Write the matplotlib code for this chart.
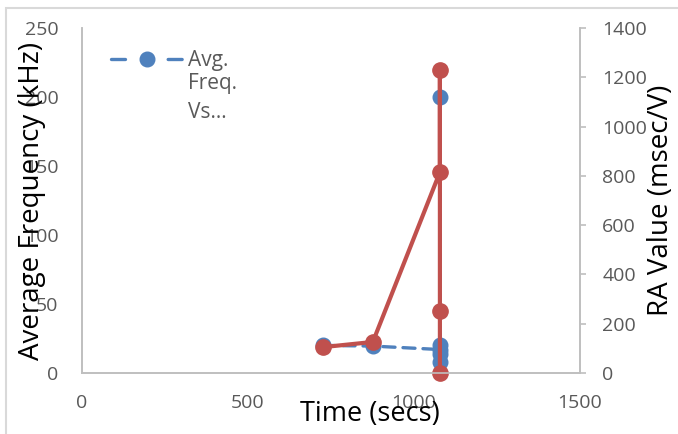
import matplotlib.pyplot as plt
from matplotlib.patches import Rectangle

plt.rcParams['font.family'] = ['Open Sans', 'DejaVu Sans']

# data
time_freq = [726, 876, 1078, 1078, 1078, 1078, 1078]
avg_freq = [20, 19.5, 17, 200, 20, 8, 14]
time_ra = [726, 876, 1078, 1078, 1078, 1078]
ra_value = [105, 126, 815, 1230, 250, 0]

x_ticks = [0, 500, 1000, 1500]
left_ticks = [0, 50, 100, 150, 200, 250]
right_ticks = [0, 200, 400, 600, 800, 1000, 1200, 1400]

BLUE = '#4F81BD'
RED = '#C0504D'
GRID = '#BFBFBF'
TICK = '#595959'

fig = plt.figure(figsize=(6.78, 4.34), dpi=100)
ax = fig.add_axes([82 / 678, 1 - 373 / 434, 498 / 678, 345 / 434])
ax2 = ax.twinx()

# light border around the chart area
fig.patches.append(Rectangle((6 / 678, -0.1), 1.2, 1 - 8 / 434 + 0.1,
                             transform=fig.transFigure, fill=False,
                             edgecolor='#D9D9D9', linewidth=1.5))

line_b, = ax.plot(time_freq, avg_freq, color=BLUE, linestyle='--', dashes=(3.6, 2.4),
                  linewidth=2.4, marker='o', markersize=10.5, dash_capstyle='round',
                  label='Avg.', clip_on=False)
ax2.plot(time_ra, ra_value, color=RED, linewidth=3, marker='o', markersize=11,
         clip_on=False)

ax.set_xlim(0, 1500)
ax.set_ylim(0, 250)
ax2.set_ylim(0, 1400)
ax.set_xticks(x_ticks)
ax.set_yticks(left_ticks)
ax2.set_yticks(right_ticks)

for a in (ax, ax2):
    for s in a.spines.values():
        s.set_color(GRID)
        s.set_linewidth(1.2)
    a.spines['top'].set_visible(False)
    a.set_facecolor('none')

ax.tick_params(axis='x', length=0, pad=15, labelsize=14, labelcolor=TICK)
ax.tick_params(axis='y', length=0, pad=17, labelsize=14, labelcolor=TICK)
ax2.tick_params(axis='y', length=4, width=1.2, color=GRID, pad=12, labelsize=14, labelcolor=TICK)

ax.set_xlabel('Time (secs)', fontsize=19.5, va='center')
ax.xaxis.set_label_coords((370 - 82) / 498, -(414 - 373) / 345)
ax.set_ylabel('Average Frequency (kHz)', fontsize=20, va='center')
ax.yaxis.set_label_coords(-(82 - 32) / 498, 0.5)
ax2.set_ylabel('RA Value (msec/V)', fontsize=20, va='center', rotation=90)
ax2.yaxis.set_label_coords(1 + (661 - 580) / 498, 0.5)

leg = ax2.legend(handles=[line_b], loc='upper left', frameon=False, fontsize=15,
                 handlelength=3.4, handletextpad=0.3,
                 bbox_to_anchor=(21 / 498, 1 - 14 / 345), borderaxespad=0)
for t in leg.get_texts():
    t.set_color(TICK)
# dash - marker - dash look of the legend key
leg.legend_handles[0].set_dashes((4.2, 12.8))

fig.canvas.draw()
bb = leg.get_texts()[0].get_window_extent()
inv = fig.transFigure.inverted()
x0, y0 = inv.transform((bb.x0, bb.y0))
fig.text(x0, y0 - 2 / 434, 'Freq.\nVs…', fontsize=15, color=TICK,
         ha='left', va='top', linespacing=1.45)

fig.savefig('out.png', dpi=100)
